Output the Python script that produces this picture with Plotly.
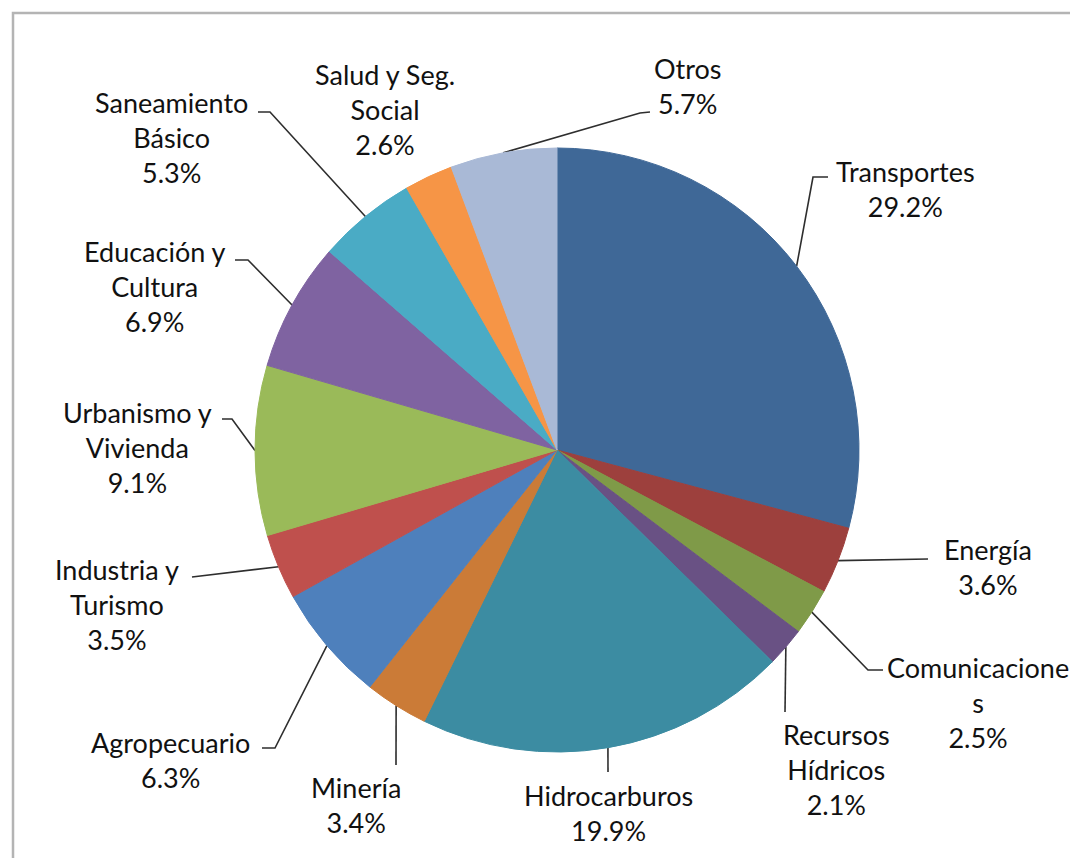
import math

import plotly.graph_objects as go

# sector shares (%), clockwise from 12 o'clock
sectors = [
    "Transportes", "Energía", "Comunicaciones", "Recursos Hídricos",
    "Hidrocarburos", "Minería", "Agropecuario", "Industria y Turismo",
    "Urbanismo y Vivienda", "Educación y Cultura", "Saneamiento Básico",
    "Salud y Seg. Social", "Otros",
]
shares = [29.2, 3.6, 2.5, 2.1, 19.9, 3.4, 6.3, 3.5, 9.1, 6.9, 5.3, 2.6, 5.7]
label_text = [
    "Transportes", "Energía", "Comunicacione<br>s", "Recursos<br>Hídricos",
    "Hidrocarburos", "Minería", "Agropecuario", "Industria y<br>Turismo",
    "Urbanismo y<br>Vivienda", "Educación y<br>Cultura", "Saneamiento<br>Básico",
    "Salud y Seg.<br>Social", "Otros",
]
colors = [
    "#3F6897", "#9D403D", "#7F9A48", "#695184", "#3C8CA2", "#CB7B37", "#4E80BC",
    "#BF504D", "#9ABA59", "#7F63A1", "#4AABC5", "#F69546", "#A9B9D6",
]

# page has an 8px body margin, so work in screen px and shift
OFF = 8
W, H = 1078 - OFF, 858 - OFF
CX, CY, R = 557, 450, 302  # pie centre / radius in screen px

# label block centres (px) and leader line bends (px) -- layout only
label_pos = [
    (905, 189), (988, 567), (978, 702), (836, 769), (608, 813), (356, 805),
    (170, 760), (117, 604), (137, 447), (154, 286), (171, 137), (385, 109),
    (688, 86),
]
leader_bends = [
    [(813, 177), (828, 177)],
    [(928, 559)],
    [(868, 670), (883, 670)],
    [(785, 712)],
    [(608, 772)],
    [(396, 765)],
    [(275, 748), (262, 748)],
    [(192, 577)],
    [(232, 419), (222, 419)],
    [(248, 260), (235, 260)],
    [(270, 112), (258, 112)],
    [],
    [(640, 113), (650, 112)],
]

fig = go.Figure()

fig.add_trace(
    go.Pie(
        labels=sectors,
        values=shares,
        sort=False,
        direction="clockwise",
        rotation=0,
        # outline each slice in its own colour to hide anti-alias seams
        marker=dict(colors=colors, line=dict(color=colors, width=1)),
        textinfo="none",
        hoverinfo="label+percent",
        showlegend=False,
        domain=dict(
            x=[(CX - OFF - R) / W, (CX - OFF + R) / W],
            y=[1 - (CY - OFF + R) / H, 1 - (CY - OFF - R) / H],
        ),
    )
)

# leader lines start at the middle of each slice on the rim
total = sum(shares)
cum = 0
for v, bends in zip(shares, leader_bends):
    mid = (cum + v / 2) / total * 2 * math.pi
    cum += v
    if not bends:
        continue
    sx = CX + R * math.sin(mid)
    sy = CY - R * math.cos(mid)
    xs = [sx] + [p[0] for p in bends]
    ys = [sy] + [p[1] for p in bends]
    fig.add_trace(
        go.Scatter(
            x=xs, y=ys, mode="lines",
            line=dict(color="#2e2e2e", width=1.6),
            hoverinfo="skip", showlegend=False,
        )
    )

for txt, v, (lx, ly) in zip(label_text, shares, label_pos):
    fig.add_annotation(
        x=lx, y=ly, xref="x", yref="y",
        text=f"{txt}<br>{v:.1f}%",
        showarrow=False, align="center",
        xanchor="center", yanchor="middle",
        font=dict(family="Lato, sans-serif", size=27, color="#111111"),
    )

# chart frame
fig.add_shape(
    type="rect", xref="x", yref="y",
    x0=13, y0=13, x1=W + 40, y1=H + 40,
    line=dict(color="#b4b4b4", width=2.5),
)

fig.update_layout(
    width=W, height=H,
    margin=dict(l=0, r=0, t=0, b=0),
    paper_bgcolor="white",
    plot_bgcolor="rgba(0,0,0,0)",
    xaxis=dict(range=[OFF, OFF + W], visible=False, fixedrange=True),
    yaxis=dict(range=[OFF + H, OFF], visible=False, fixedrange=True),
)

fig.write_html("out.html")
